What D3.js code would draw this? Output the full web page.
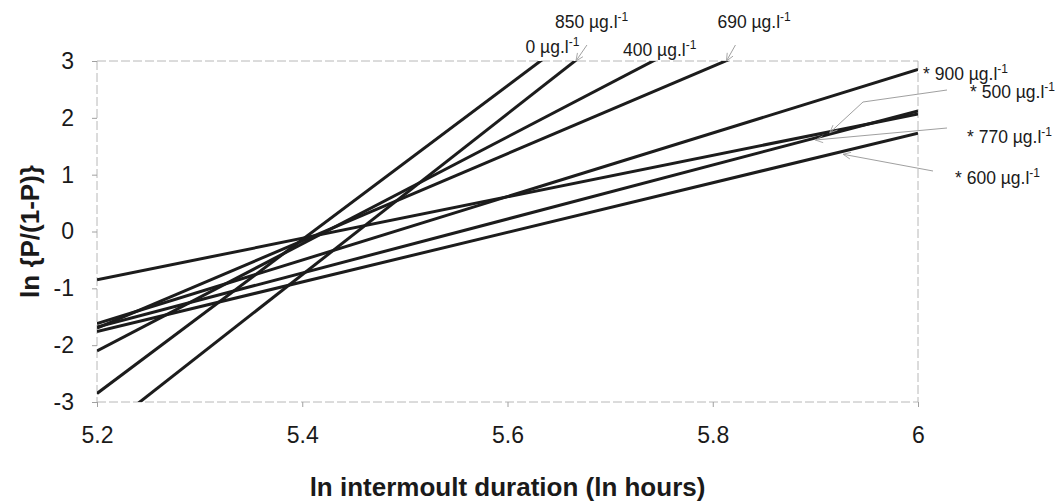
<!DOCTYPE html>
<html>
<head>
<meta charset="utf-8">
<script src="https://cdn.jsdelivr.net/npm/d3@7"></script>
<style>
  html, body { margin: 0; padding: 0; background: #fff; }
  svg { display: block; font-family: "Liberation Sans", Arial, sans-serif; }
</style>
</head>
<body>
<svg id="chart" width="1061" height="504"></svg>
<script>
// Logistic moult-probability regressions: ln{P/(1-P)} against ln intermoult duration
const concentrations = ["0", "400", "500", "600", "690", "770", "850", "900"];
const significant    = [false, false, true, true, false, true, false, true];
// fitted value at ln duration = 5.2 and at ln duration = 6.0
const valueAtStart = [-2.85, -2.10, -0.85, -1.76, -1.70, -1.68, -3.59, -1.62];
const valueAtEnd   = [ 7.98,  5.43,  2.07,  1.73,  4.44,  2.12,  7.73,  2.85];

const xTicks = [5.2, 5.4, 5.6, 5.8, 6];
const yTicks = [-3, -2, -1, 0, 1, 2, 3];

const svg = d3.select("#chart");
const plotLeft = 97, plotRight = 918, plotTop = 61, plotBottom = 402;

const x = d3.scaleLinear().domain([5.2, 6]).range([plotLeft, plotRight]);
const y = d3.scaleLinear().domain([-3, 3]).range([plotBottom, plotTop]);

const lines = concentrations.map((c, i) => ({
  conc: c, star: significant[i],
  p0: [5.2, valueAtStart[i]], p1: [6.0, valueAtEnd[i]],
  slope: (valueAtEnd[i] - valueAtStart[i]) / 0.8
}));
const valueAt = (l, xv) => l.p0[1] + l.slope * (xv - 5.2);
const xAtValue = (l, v) => 5.2 + (v - l.p0[1]) / l.slope;

// arrowhead for the label leaders
const defs = svg.append("defs");
defs.append("marker")
  .attr("id", "arrow").attr("viewBox", "-10 -6 12 12")
  .attr("markerWidth", 10).attr("markerHeight", 10)
  .attr("orient", "auto").attr("markerUnits", "userSpaceOnUse")
  .append("path").attr("d", "M-9,-4 L0,0 L-9,4")
  .attr("fill", "none").attr("stroke", "#a0a0a0").attr("stroke-width", 1);

defs.append("clipPath").attr("id", "plotClip")
  .append("rect").attr("x", plotLeft).attr("y", plotTop)
  .attr("width", plotRight - plotLeft).attr("height", plotBottom - plotTop);

// plot area frame
const frame = svg.append("g").attr("fill", "none").attr("stroke", "#b8b8b8")
  .attr("stroke-width", 1).attr("stroke-dasharray", "9,3");
frame.append("line").attr("x1", plotLeft).attr("x2", plotRight).attr("y1", plotTop).attr("y2", plotTop);
frame.append("line").attr("x1", plotRight).attr("x2", plotRight).attr("y1", plotTop).attr("y2", plotBottom);
frame.append("line").attr("x1", plotLeft).attr("x2", plotLeft).attr("y1", plotTop).attr("y2", plotBottom);
frame.append("line").attr("x1", plotLeft).attr("x2", plotRight).attr("y1", plotBottom).attr("y2", plotBottom);

// axes
const yAxis = svg.append("g").attr("transform", `translate(${plotLeft},0)`)
  .call(d3.axisLeft(y).tickValues(yTicks).tickSize(5).tickPadding(18).tickFormat(d => String(d)));
const xAxis = svg.append("g").attr("transform", `translate(0,${plotBottom})`)
  .call(d3.axisBottom(x).tickValues(xTicks).tickSize(5).tickPadding(20).tickFormat(d => String(d)));
[yAxis, xAxis].forEach(g => {
  g.select(".domain").remove();
  g.selectAll(".tick line").attr("stroke", "#a0a0a0");
  g.selectAll(".tick text").attr("fill", "#1a1a1a")
    .style("font-family", "'Liberation Sans', Arial, sans-serif").style("font-size", "23px");
});

// regression lines
svg.append("g").attr("clip-path", "url(#plotClip)")
  .selectAll("path").data(lines).join("path")
  .attr("d", l => d3.line().x(d => x(d[0])).y(d => y(d[1]))([l.p0, l.p1]))
  .attr("fill", "none").attr("stroke", "#1c1c1c").attr("stroke-width", 3)
  .attr("stroke-linecap", "butt");

// concentration labels
function addLabel(px, py, l) {
  const t = svg.append("text").attr("x", px).attr("y", py)
    .attr("fill", "#1a1a1a").style("font-size", "17.5px");
  t.append("tspan").text((l.star ? "* " : "") + l.conc + " µg.l");
  t.append("tspan").attr("dy", -7).style("font-size", "12px").text("-1");
  return t;
}
const byConc = c => lines.find(l => l.conc === c);
const leader = (pts) => svg.append("path")
  .attr("d", d3.line()(pts)).attr("fill", "none")
  .attr("stroke", "#a0a0a0").attr("stroke-width", 1)
  .attr("marker-end", "url(#arrow)");

// lines leaving through the top edge
const topX = c => x(xAtValue(byConc(c), 3));
addLabel(topX("0") - 15, 53, byConc("0"));
addLabel(topX("850") - 20, 28, byConc("850"));
leader([[topX("850") + 12, 45], [topX("850") + 1, plotTop]]);
addLabel(topX("400") - 30, 56, byConc("400"));
addLabel(topX("690") - 8, 28, byConc("690"));
leader([[topX("690") + 10, 45], [topX("690") + 1, plotTop]]);

// lines reaching the right edge
const l900 = byConc("900"), l500 = byConc("500"), l770 = byConc("770"), l600 = byConc("600");
addLabel(plotRight + 5, y(valueAt(l900, 6)) + 10, l900);
addLabel(plotRight + 52, 98, l500);
leader([[plotRight + 29, 90], [plotRight - 55, 102], [x(5.914), y(valueAt(l500, 5.914)) + 1]]);
addLabel(plotRight + 49, 143, l770);
leader([[plotRight + 29, 128], [x(5.9), y(valueAt(l770, 5.9)) + 2]]);
addLabel(plotRight + 37, 184, l600);
leader([[plotRight + 15, 171], [x(5.927), y(valueAt(l600, 5.927)) + 3]]);

// axis titles
svg.append("text").attr("x", (plotLeft + plotRight) / 2).attr("y", 496)
  .attr("text-anchor", "middle").attr("fill", "#1a1a1a")
  .style("font-size", "26px").style("font-weight", "bold")
  .text("ln intermoult duration (ln hours)");
svg.append("text").attr("transform", `translate(39,${(plotTop + plotBottom) / 2}) rotate(-90)`)
  .attr("text-anchor", "middle").attr("fill", "#1a1a1a")
  .style("font-size", "26px").style("font-weight", "bold")
  .text("ln {P/(1-P)}");
</script>
</body>
</html>
